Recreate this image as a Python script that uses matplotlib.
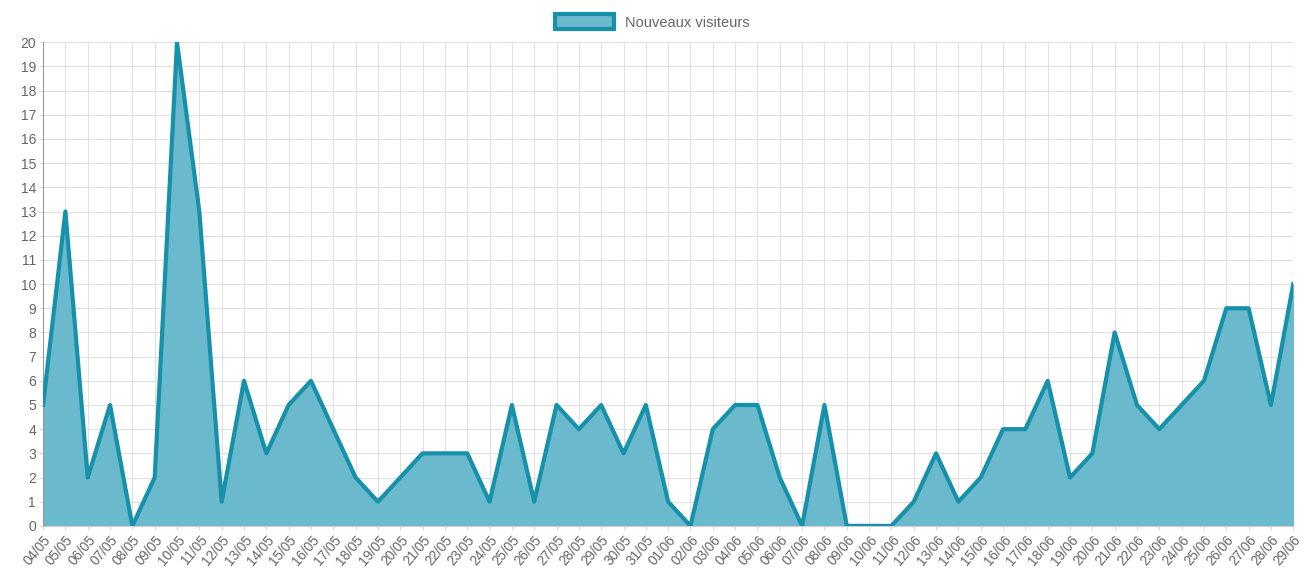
import matplotlib
matplotlib.use("Agg")
import matplotlib.pyplot as plt
from matplotlib.patches import Patch

plt.rcParams["font.family"] = ["Liberation Sans", "DejaVu Sans"]

days = ["04/05", "05/05", "06/05", "07/05", "08/05", "09/05", "10/05", "11/05",
        "12/05", "13/05", "14/05", "15/05", "16/05", "17/05", "18/05", "19/05",
        "20/05", "21/05", "22/05", "23/05", "24/05", "25/05", "26/05", "27/05",
        "28/05", "29/05", "30/05", "31/05", "01/06", "02/06", "03/06", "04/06",
        "05/06", "06/06", "07/06", "08/06", "09/06", "10/06", "11/06", "12/06",
        "13/06", "14/06", "15/06", "16/06", "17/06", "18/06", "19/06", "20/06",
        "21/06", "22/06", "23/06", "24/06", "25/06", "26/06", "27/06", "28/06",
        "29/06"]
visiteurs = [5, 13, 2, 5, 0, 2, 20, 13, 1, 6, 3, 5, 6, 4, 2, 1,
             2, 3, 3, 3, 1, 5, 1, 5, 4, 5, 3, 5, 1, 0, 4, 5,
             5, 2, 0, 5, 0, 0, 0, 1, 3, 1, 2, 4, 4, 6, 2, 3,
             8, 5, 4, 5, 6, 9, 9, 5, 10]

fill_col = "#6ab9cc"
line_col = "#1791aa"

fig = plt.figure(figsize=(13.05, 5.71), dpi=100)
ax = fig.add_axes([0.033, 0.079, 0.958, 0.847])

x = list(range(len(days)))
ax.fill_between(x, visiteurs, 0, color=fill_col, zorder=2)
ax.plot(x, visiteurs, color=line_col, lw=3, zorder=3, solid_joinstyle="round")

ax.set_xlim(0, len(days) - 1)
ax.set_ylim(0, 20)
ax.set_yticks(range(0, 21))
ax.set_xticks(x)
ax.set_xticklabels(days, rotation=50, ha="right", rotation_mode="anchor")
ax.tick_params(axis="both", labelsize=10, colors="#666666", length=3, width=0.8, pad=2)
ax.tick_params(axis="x", labelsize=9.8)
ax.tick_params(axis="both", color="#dddddd")
ax.grid(True, color="#e0e0e0", lw=0.8, zorder=0)
ax.set_axisbelow(True)
for s in ["top", "right"]:
    ax.spines[s].set_visible(False)
ax.spines["left"].set_color("#999999")
ax.spines["bottom"].set_color("#cccccc")

handle = Patch(facecolor=fill_col, edgecolor=line_col, linewidth=3)
fig.legend([handle], ["Nouveaux visiteurs"], loc="upper center",
           bbox_to_anchor=(0.5, 0.998), frameon=False, fontsize=10.5,
           labelcolor="#666666", handlelength=4.0, handleheight=1.2)

fig.savefig("out.png", dpi=100)
